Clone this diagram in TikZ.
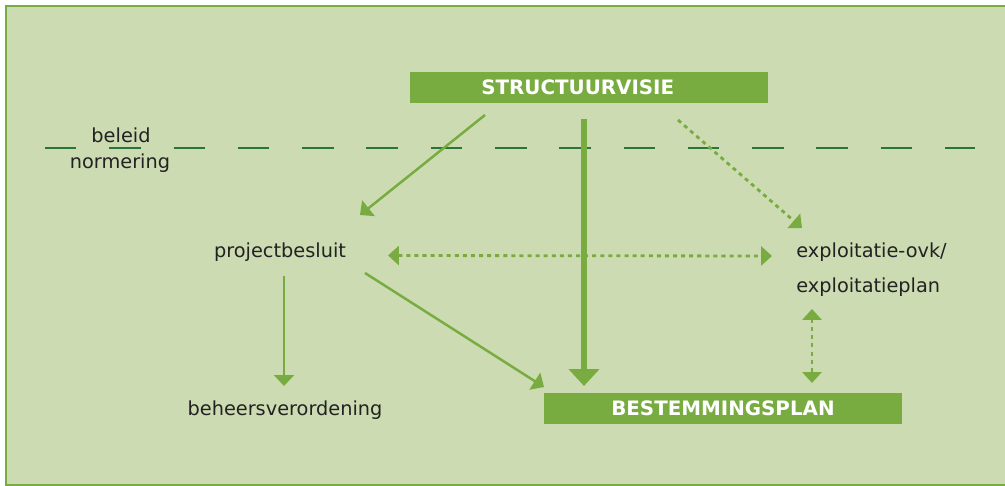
\documentclass[tikz,border=0pt]{standalone}
\usepackage{fontspec}
\setmainfont{DejaVu Sans}
\usepackage{tikz}
\usetikzlibrary{calc,arrows.meta}
\definecolor{bggreen}{RGB}{204,219,178}
\definecolor{boxgreen}{RGB}{120,172,64}
\definecolor{darkgreen}{RGB}{42,118,58}
\definecolor{txtgray}{RGB}{34,34,34}
\tikzset{
  label/.style={font=\fontsize{11}{13}\selectfont, text=txtgray, inner sep=0pt},
  titlebox/.style={fill=boxgreen, text=white, font=\bfseries\fontsize{11.3}{13}\selectfont,
    minimum width=7.16cm, minimum height=0.62cm, inner sep=0pt},
  arr/.style={draw=boxgreen, line width=1.4pt, -{Triangle[length=6.2pt,width=11.3pt]}},
  dotarr/.style={draw=boxgreen, line width=1.6pt, dash pattern=on 2.3pt off 2.3pt,
    -{Triangle[length=6.2pt,width=10.8pt]}},
  bothdot/.style={dotarr, {Triangle[length=6.2pt,width=10.8pt]}-{Triangle[length=6.2pt,width=10.8pt]}}
}

\begin{document}
\begin{tikzpicture}[x=0.02cm, y=-0.02cm]
    \useasboundingbox (0,0) rectangle (1005,486);
    \fill[bggreen] (6,6) rectangle (1005,486);
    \draw[boxgreen, line width=0.8pt] (1010,6) -- (6,6) -- (6,485) -- (1010,485);

    % beleid / normering
    \draw[darkgreen, line width=1.7pt, dash pattern=on 0.63cm off 0.656cm] (45,148) -- (975,148);
    \node[label] (beleid) at (121,135) {beleid};
    \node[label] (norm) at (120,163) {normering};

    \node[titlebox] (sv) at (589,87.5) {STRUCTUURVISIE\hspace*{0.45cm}};
    \node[titlebox] (bp) at (723,408.5) {BESTEMMINGSPLAN};

    \node[label] (pb) at (280,252) {projectbesluit};
    \node[label] (bv) at (285,410) {beheersverordening};
    \node[label, align=left, anchor=west, font=\fontsize{11}{19.8}\selectfont] (ex) at (796,269.5)
      {exploitatie-ovk/\\exploitatieplan};

    \draw[arr] ($(sv)+(-104,27.5)$) -- ($(pb)+(80,-37)$);
    \draw[draw=boxgreen, line width=3.4pt, -{Triangle[length=9.6pt,width=17pt]}]
      ($(sv)+(-5,31.5)$) -- ($(bp)+(-139,-22.5)$);
    \draw[dotarr] ($(sv)+(89,32.5)$) -- ($(ex.west)+(6,-41.5)$);
    \draw[bothdot] ($(pb)+(108,3.5)$) -- ($(ex.west)+(-24,-13.5)$);
    \draw[arr] ($(pb)+(85,21)$) -- ($(bp)+(-179,-21.5)$);
    \draw[arr] ($(pb)+(4,24)$) -- ($(bv)+(-1,-24)$);
    \draw[bothdot] ($(ex.west)+(16,39.5)$) -- ($(bp)+(89,-25.5)$);
\end{tikzpicture}
\end{document}
